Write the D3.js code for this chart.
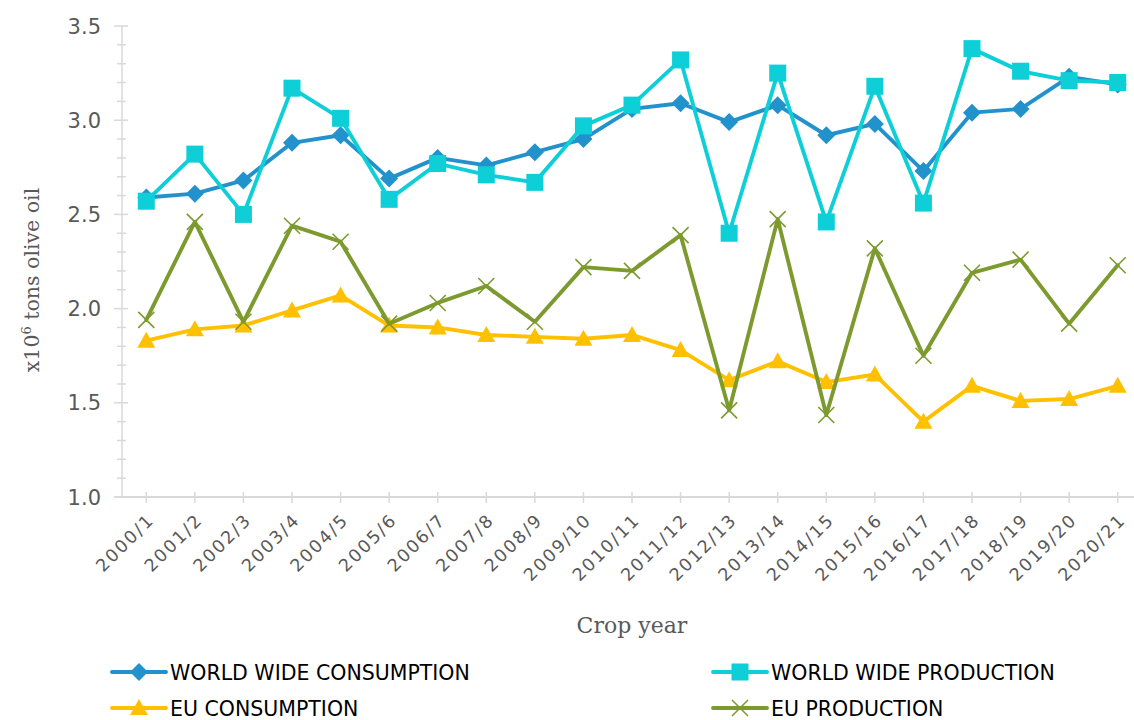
<!DOCTYPE html>
<html>
<head>
<meta charset="utf-8">
<script src="https://cdn.jsdelivr.net/npm/d3@7"></script>
<style>
  body { margin: 0; background: #fff; }
  svg { display: block; }
</style>
</head>
<body>
<div id="root"></div>
<script>
var years = ['2000/1', '2001/2', '2002/3', '2003/4', '2004/5', '2005/6', '2006/7', '2007/8', '2008/9', '2009/10',
  '2010/11', '2011/12', '2012/13', '2013/14', '2014/15', '2015/16', '2016/17', '2017/18', '2018/19', '2019/20', '2020/21'];
var worldConsumption = [2.59, 2.61, 2.68, 2.88, 2.92, 2.69, 2.80, 2.76, 2.83, 2.90,
  3.06, 3.09, 2.99, 3.08, 2.92, 2.98, 2.73, 3.04, 3.06, 3.23, 3.19];
var worldProduction = [2.57, 2.82, 2.50, 3.17, 3.01, 2.58, 2.77, 2.71, 2.67, 2.97,
  3.08, 3.32, 2.40, 3.25, 2.46, 3.18, 2.56, 3.38, 3.26, 3.21, 3.20];
var euConsumption = [1.83, 1.89, 1.91, 1.99, 2.07, 1.91, 1.90, 1.86, 1.85, 1.84,
  1.86, 1.78, 1.62, 1.72, 1.61, 1.65, 1.40, 1.59, 1.51, 1.52, 1.59];
var euProduction = [1.94, 2.46, 1.93, 2.44, 2.355, 1.92, 2.03, 2.12, 1.93, 2.22,
  2.20, 2.39, 1.46, 2.475, 1.435, 2.32, 1.75, 2.19, 2.26, 1.92, 2.23];
var yTicks = [1.0, 1.5, 2.0, 2.5, 3.0, 3.5];

var w = 1134, h = 720;
var svg = d3.select('#root').append('svg').attr('width', w).attr('height', h);

var x = d3.scalePoint().domain(years).range([122, 1142]).padding(0.5);
var y = d3.scaleLinear().domain([1, 3.5]).range([497, 26]);

var series = [
  { name: 'WORLD WIDE CONSUMPTION', values: worldConsumption, color: '#2292cc', marker: 'diamond' },
  { name: 'WORLD WIDE PRODUCTION', values: worldProduction, color: '#0ecfd8', marker: 'square' },
  { name: 'EU CONSUMPTION', values: euConsumption, color: '#ffc000', marker: 'triangle' },
  { name: 'EU PRODUCTION', values: euProduction, color: '#7d9a2f', marker: 'cross' }
];

var gridColor = '#d9d9d9';
var axisText = '#595959';

// y axis
var ya = svg.append('g');
ya.append('line').attr('x1', 122).attr('x2', 122).attr('y1', y(3.5)).attr('y2', y(1))
  .attr('stroke', gridColor).attr('stroke-width', 1.5);
ya.selectAll('.minor').data(d3.range(10, 36).map(function (d) { return d / 10; }))
  .enter().append('line')
  .attr('x1', function (d) { return yTicks.indexOf(d) >= 0 ? 114 : 117; })
  .attr('x2', function (d) { return yTicks.indexOf(d) >= 0 ? 128 : 126; })
  .attr('y1', function (d) { return y(d); }).attr('y2', function (d) { return y(d); })
  .attr('stroke', gridColor).attr('stroke-width', 1.5);
ya.selectAll('text').data(yTicks).enter().append('text')
  .attr('x', 101).attr('y', function (d) { return y(d) + 7.5; })
  .attr('text-anchor', 'end')
  .attr('font-family', 'DejaVu Sans').attr('font-size', 21).attr('fill', axisText)
  .text(function (d) { return d.toFixed(1); });

// x axis
var xa = svg.append('g');
xa.append('line').attr('x1', 114).attr('x2', w).attr('y1', 497).attr('y2', 497)
  .attr('stroke', gridColor).attr('stroke-width', 2);
xa.selectAll('.tick').data(years).enter().append('line')
  .attr('x1', function (d) { return x(d); }).attr('x2', function (d) { return x(d); })
  .attr('y1', 492).attr('y2', 503)
  .attr('stroke', gridColor).attr('stroke-width', 1.5);
xa.selectAll('text').data(years).enter().append('text')
  .attr('transform', function (d) { return 'translate(' + (x(d) + 9) + ',' + 521 + ') rotate(-45)'; })
  .attr('text-anchor', 'end')
  .attr('font-family', 'DejaVu Sans').attr('font-size', 17.5).attr('letter-spacing', 2)
  .attr('fill', axisText)
  .text(function (d) { return d; });

// axis titles
svg.append('text')
  .attr('x', 632).attr('y', 633).attr('text-anchor', 'middle')
  .attr('font-family', 'DejaVu Serif').attr('font-size', 22).attr('fill', axisText)
  .text('Crop year');
var yt = svg.append('text')
  .attr('transform', 'translate(39,280) rotate(-90)').attr('text-anchor', 'middle')
  .attr('font-family', 'DejaVu Serif').attr('font-size', 20.5).attr('fill', axisText);
yt.append('tspan').text('x10');
yt.append('tspan').attr('dy', -8).attr('font-size', 13).text('6');
yt.append('tspan').attr('dy', 8).text(' tons olive oil');

function marker(g, type, color) {
  if (type === 'diamond') {
    g.append('path').attr('d', 'M0,-9L9,0L0,9L-9,0Z').attr('fill', color);
  } else if (type === 'square') {
    g.append('rect').attr('x', -8.5).attr('y', -8.5).attr('width', 17).attr('height', 17).attr('fill', color);
  } else if (type === 'triangle') {
    g.append('path').attr('d', 'M0,-9L9,7L-9,7Z').attr('fill', color);
  } else {
    g.append('path').attr('d', 'M-8,-8L8,8M-8,8L8,-8').attr('stroke', color).attr('stroke-width', 1.6).attr('fill', 'none');
  }
}

var line = d3.line()
  .x(function (d, i) { return x(years[i]); })
  .y(function (d) { return y(d); });

series.forEach(function (s) {
  var g = svg.append('g');
  g.append('path').datum(s.values).attr('d', line)
    .attr('fill', 'none').attr('stroke', s.color).attr('stroke-width', 3.9)
    .attr('stroke-linejoin', 'round').attr('stroke-linecap', 'round');
  g.selectAll('.pt').data(s.values).enter().append('g')
    .attr('transform', function (d, i) { return 'translate(' + x(years[i]) + ',' + y(d) + ')'; })
    .each(function () { marker(d3.select(this), s.marker, s.color); });
});

// legend
var legendPos = [[112, 672], [713, 672], [112, 708], [713, 708]];
series.forEach(function (s, i) {
  var p = legendPos[i];
  var g = svg.append('g').attr('transform', 'translate(' + p[0] + ',' + p[1] + ')');
  g.append('line').attr('x1', 0).attr('x2', 54).attr('y1', 0).attr('y2', 0)
    .attr('stroke', s.color).attr('stroke-width', 3.9).attr('stroke-linecap', 'round');
  marker(g.append('g').attr('transform', 'translate(27,0)'), s.marker, s.color);
  g.append('text').attr('x', 58).attr('y', 7.5)
    .attr('font-family', 'DejaVu Sans').attr('font-size', 20.5).attr('fill', '#000')
    .text(s.name);
});
</script>
</body>
</html>
